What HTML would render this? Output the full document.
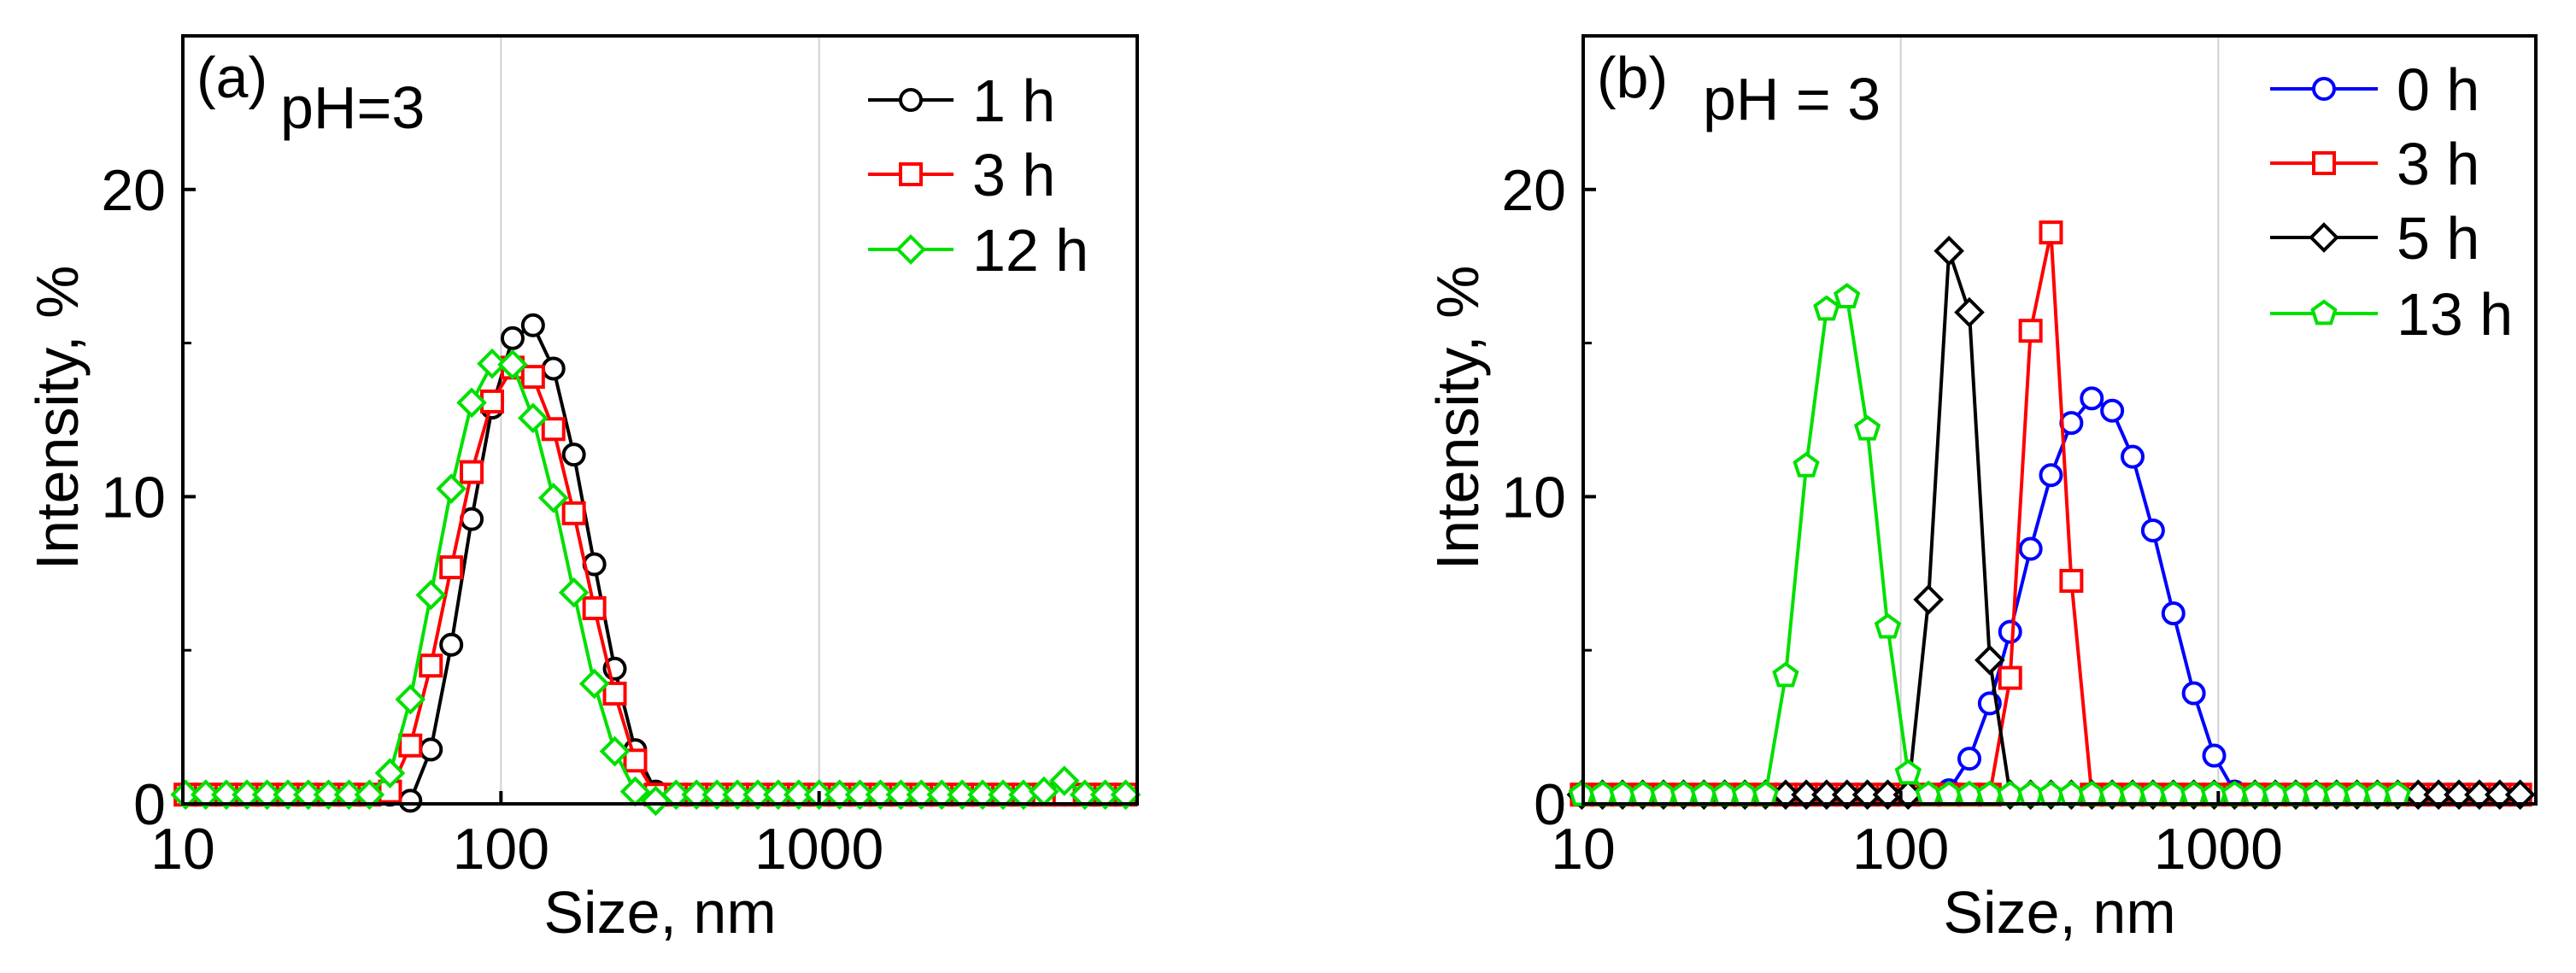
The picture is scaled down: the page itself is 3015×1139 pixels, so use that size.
<!DOCTYPE html>
<html><head><meta charset="utf-8">
<style>
html,body{margin:0;padding:0;background:#fff;}
svg{display:block;font-family:"Liberation Sans",Arial,sans-serif;}
</style></head>
<body>
<svg id="fig" width="3015" height="1139" viewBox="0 0 3015 1139" xmlns="http://www.w3.org/2000/svg"></svg>
<script>
// ---- Panel (a) data ----
const sizesA = [10.2,11.8,13.7,15.9,18.4,21.4,24.8,28.7,33.3,38.6,44.8,51.9,60.2,69.8,80.9,93.8,108.8,126.1,146.2,169.5,196.6,227.9,264.3,306.4,355.2,411.8,477.5,553.6,641.9,744.2,862.8,1000.4,1159.8,1344.7,1559.1,1807.6,2095.8,2429.9,2817.3,3266.4,3787.1,4390.8,5090.8,5902.4,6843.3,7934.2,9199];
const a1h = [0.3,0.3,0.3,0.3,0.3,0.3,0.3,0.3,0.3,0.3,0.3,0.1,1.77,5.18,9.27,12.9,15.16,15.58,14.17,11.37,7.8,4.4,1.75,0.4,0.3,0.3,0.3,0.3,0.3,0.3,0.3,0.3,0.3,0.3,0.3,0.3,0.3,0.3,0.3,0.3,0.3,0.3,0.3,0.3,0.3,0.3,0.3];
const a3h = [0.3,0.3,0.3,0.3,0.3,0.3,0.3,0.3,0.3,0.3,0.4,1.9,4.5,7.7,10.8,13.1,14.2,13.9,12.2,9.46,6.37,3.59,1.41,0.3,0.3,0.3,0.3,0.3,0.3,0.3,0.3,0.3,0.3,0.3,0.3,0.3,0.3,0.3,0.3,0.3,0.3,0.3,0.3,0.3,0.3,0.3,0.3];
const a12h = [0.3,0.3,0.3,0.3,0.3,0.3,0.3,0.3,0.3,0.3,1.0,3.4,6.8,10.26,13.06,14.33,14.3,12.56,9.96,6.88,3.91,1.71,0.4,0.1,0.3,0.3,0.3,0.3,0.3,0.3,0.3,0.3,0.3,0.3,0.3,0.3,0.3,0.3,0.3,0.3,0.3,0.3,0.4,0.75,0.3,0.3,0.3];
// ---- Panel (b) data ----
const sizesB = [9.9,11.5,13.3,15.4,17.9,20.7,24.0,27.9,32.3,37.5,43.4,50.4,58.4,67.7,78.5,91.0,105.5,122.3,141.9,164.5,190.7,221.1,256.4,297.2,344.6,399.6,463.3,537.1,622.7,722.0,837.1,970.5,1125.2,1304.6,1512.6,1753.7,2033.3,2357.5,2733.3,3169.1,3674.3,4260.0,4939.2,5726.6,6639.6,7698.1,8925];
const b0h = [null,null,null,null,null,null,null,null,null,null,null,null,null,null,null,null,null,null,0.44,1.47,3.27,5.6,8.3,10.7,12.4,13.2,12.8,11.3,8.9,6.2,3.6,1.57,0.4,null,null,null,null,null,null,null,null,null,null,null,null,null,null];
const b3h = [0.3,0.3,0.3,0.3,0.3,0.3,0.3,0.3,0.3,0.3,0.3,0.3,0.3,0.3,0.3,0.3,0.3,0.3,0.3,0.3,0.3,4.1,15.4,18.6,7.26,0.3,0.3,0.3,0.3,0.3,0.3,0.3,0.3,0.3,0.3,0.3,0.3,0.3,0.3,0.3,0.3,0.3,0.3,0.3,0.3,0.3,0.3];
const b5h = [0.3,0.3,0.3,0.3,0.3,0.3,0.3,0.3,0.3,0.3,0.3,0.3,0.3,0.3,0.3,0.3,0.3,6.65,18.0,16.0,4.68,0.3,0.3,0.3,0.3,0.3,0.3,0.3,0.3,0.3,0.3,0.3,0.3,0.3,0.3,0.3,0.3,0.3,0.3,0.3,0.3,0.3,0.3,0.3,0.3,0.3,0.3];
const b13h = [0.3,0.3,0.3,0.3,0.3,0.3,0.3,0.3,0.3,0.3,4.17,11.0,16.1,16.5,12.2,5.75,1.0,0.3,0.3,0.3,0.3,0.3,0.3,0.3,0.3,0.3,0.3,0.3,0.3,0.3,0.3,0.3,0.3,0.3,0.3,0.3,0.3,0.3,0.3,0.3,0.3];
const xTicks = [10,100,1000];
const xTickLabels = ["10","100","1000"];
const yTicks = [0,10,20];
const yTickLabels = ["0","10","20"];
const yMinor = [5,15];

const NS="http://www.w3.org/2000/svg";
const svg=document.getElementById('fig');
function mk(tag,attrs,parent){const e=document.createElementNS(NS,tag);for(const k in attrs)e.setAttribute(k,attrs[k]);(parent||svg).appendChild(e);return e;}

function panel(opts){
  const L=opts.left,R=opts.right,T=42,B=941;
  const xs=v=>L+(Math.log10(v)-1)/3*(R-L);
  const ys=v=>B-v/25*(B-T);
  const g=mk('g',{});
  
  
  [100,1000].forEach(v=>{const l=mk('line',{x1:xs(v),x2:xs(v),y1:T,y2:B,stroke:'#d0d0d0','stroke-width':2},g);
    
    });
  opts.series.forEach(s=>{
    const sg=mk('g',{},g);
    
    
    const pts=[];
    s.vals.forEach((v,i)=>{if(v!==null&&v!==undefined)pts.push([xs(s.sizes[i]),ys(v)]);});
    const pl=mk('polyline',{points:pts.map(p=>p.join(',')).join(' '),fill:'none',stroke:s.color,'stroke-width':4,'stroke-linejoin':'round'},sg);
    
    
    pts.forEach(p=>{const m=marker(s.shape,p[0],p[1],s.color,sg);
      
      });
  });
  const fr=mk('rect',{x:L,y:T,width:R-L,height:B-T,fill:'none',stroke:'#000','stroke-width':4},g);
  
  
  yTicks.forEach((v,i)=>{
    mk('line',{x1:L,x2:L+15,y1:ys(v),y2:ys(v),stroke:'#000','stroke-width':4},g);
    const t=mk('text',{x:L-20,y:ys(v)+24,'font-size':68,'text-anchor':'end'},g);t.textContent=yTickLabels[i];
    
    
  });
  yMinor.forEach(v=>mk('line',{x1:L,x2:L+10,y1:ys(v),y2:ys(v),stroke:'#000','stroke-width':3},g));
  xTicks.forEach((v,i)=>{
    mk('line',{x1:xs(v),x2:xs(v),y1:B,y2:B-15,stroke:'#000','stroke-width':4},g);
    const t=mk('text',{x:xs(v),y:1017,'font-size':68,'text-anchor':'middle'},g);t.textContent=xTickLabels[i];
    
    
  });
  const xt=mk('text',{x:(L+R)/2,y:1092,'font-size':70,'text-anchor':'middle'},g);xt.textContent='Size, nm';
  
  
  const yt=mk('text',{x:0,y:0,'font-size':70,'text-anchor':'middle',transform:`translate(${L-123},489) rotate(-90)`},g);yt.textContent='Intensity, %';
  
  
  const pl=mk('text',{x:L+16,y:114,'font-size':68},g);pl.textContent=opts.tag;
  
  
  const ph=mk('text',{x:opts.phX,y:opts.phY,'font-size':70},g);ph.textContent=opts.ph;
  
  
  opts.series.forEach((s,i)=>{
    const y=opts.legY[i];
    const lg=mk('g',{},g);
    
    
    mk('line',{x1:opts.legX,x2:opts.legX+opts.legW,y1:y,y2:y,stroke:s.color,'stroke-width':4},lg);
    marker(s.shape,opts.legX+opts.legW/2,y,s.color,lg);
    const t=mk('text',{x:opts.legX+opts.legW+22,y:y+25,'font-size':70},lg);t.textContent=s.label;
  });
}
function marker(shape,x,y,c,parent){
  const a={fill:'#fff',stroke:c,'stroke-width':4};
  if(shape==='circle')return mk('circle',Object.assign({cx:x,cy:y,r:12},a),parent);
  if(shape==='square')return mk('rect',Object.assign({x:x-12,y:y-12,width:24,height:24},a),parent);
  if(shape==='diamond')return mk('polygon',Object.assign({points:`${x},${y-15} ${x+15},${y} ${x},${y+15} ${x-15},${y}`},a),parent);
  const p=[];for(let k=0;k<5;k++){const an=-Math.PI/2+k*2*Math.PI/5;p.push((x+14*Math.cos(an))+','+(y+14*Math.sin(an)));}
  return mk('polygon',Object.assign({points:p.join(' ')},a),parent);
}
panel({name:'panel-a',left:214,right:1331,tag:'(a)',ph:'pH=3',phX:328,phY:150,legX:1016,legW:100,legY:[117,204,292],
  series:[{label:'1 h',sizes:sizesA,vals:a1h,color:'#000',shape:'circle'},
          {label:'3 h',sizes:sizesA,vals:a3h,color:'#ff0000',shape:'square'},
          {label:'12 h',sizes:sizesA,vals:a12h,color:'#00e000',shape:'diamond'}]});
panel({name:'panel-b',left:1853,right:2968,tag:'(b)',ph:'pH = 3',phX:1993,phY:140,legX:2657,legW:126,legY:[104,191,278,367],
  series:[{label:'0 h',sizes:sizesB,vals:b0h,color:'#0000ff',shape:'circle'},
          {label:'3 h',sizes:sizesB,vals:b3h,color:'#ff0000',shape:'square'},
          {label:'5 h',sizes:sizesB,vals:b5h,color:'#000',shape:'diamond'},
          {label:'13 h',sizes:sizesB,vals:b13h,color:'#00e000',shape:'pentagon'}]});
</script>
</body></html>
